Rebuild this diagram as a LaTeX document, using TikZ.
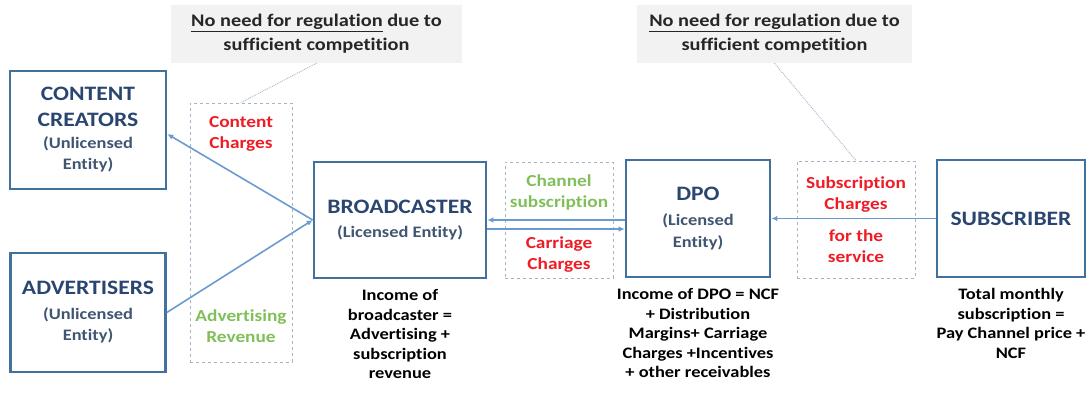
\documentclass[tikz,border=0pt]{standalone}
\usepackage{fontspec}
\setmainfont{Carlito}[FakeStretch=1.15,Ligatures=NoCommon]
\usetikzlibrary{arrows.meta,positioning}
\definecolor{boxblue}{HTML}{41719C}
\definecolor{titleblue}{HTML}{2A4670}
\definecolor{subblue}{HTML}{3F5572}
\definecolor{arrowblue}{HTML}{6A9BD0}
\definecolor{dashcol}{HTML}{A3B4C9}
\definecolor{payred}{HTML}{EE1C25}
\definecolor{earngreen}{HTML}{80BF5A}
\definecolor{notefill}{HTML}{F2F2F2}
\definecolor{notegray}{HTML}{262626}
\newcommand\titlesize{\fontsize{20.5}{26}\selectfont}
\newcommand\subsize{\fontsize{16}{21}\selectfont\color{subblue}}
\newcommand\labfont{\bfseries\fontsize{16.8}{21}\selectfont}
\newcommand\incfont{\bfseries\fontsize{16}{19.5}\selectfont}
\newcommand\notefont{\bfseries\fontsize{17.7}{24}\selectfont}
\begin{document}
\begin{tikzpicture}[x=1pt,y=-1pt,
  entity/.style={draw=boxblue,line width=2.6pt,align=center,inner sep=0pt,
    font=\bfseries\titlesize,text=titleblue},
  ctrbox/.style={draw=dashcol,dashed,line width=0.9pt},
  flow/.style={draw=arrowblue,line width=1.6pt,-{Latex[length=6pt,width=5.5pt]}},
  link/.style={draw=dashcol,densely dotted,line width=0.9pt},
  note/.style={fill=notefill,minimum width=291pt,minimum height=58pt,
    align=center,font=\notefont,text=notegray},
  pay/.style={text=payred,font=\labfont,align=center},
  earn/.style={text=earngreen,font=\labfont,align=center},
  income/.style={font=\incfont,align=center,inner sep=0pt}]
  \useasboundingbox (0,0) rectangle (1091,394);
  % notes on top
  \node[note] (regleft) at (316.5,34)
    {\underline{No need for regulation} due to\\sufficient competition};
  \node[note,minimum width=275pt] (regright) at (774.5,34)
    {\underline{No need for regulation} due to\\sufficient competition};
  % entities
  \node[entity,minimum width=156pt,minimum height=118pt] (cc) at (88,130)
    {CONTENT\\CREATORS\\[-4pt]{\subsize(Unlicensed}\\[-5pt]{\subsize Entity)}};
  \node[entity,minimum width=155pt,minimum height=119pt] (adv) at (88,312.5)
    {ADVERTISERS\\[-1pt]{\subsize(Unlicensed}\\[-5pt]{\subsize Entity)}};
  \node[entity,minimum width=172pt,minimum height=116pt] (bc) at (400,220)
    {BROADCASTER\\[-2pt]{\subsize(Licensed Entity)}};
  \node[entity,minimum width=144pt,minimum height=117pt] (dpo) at (698,218.5)
    {DPO\\[-1pt]{\subsize(Licensed}\\[-4pt]{\subsize Entity)}};
  \node[entity,minimum width=148pt,minimum height=117pt] (sub) at (1011,218.5)
    {SUBSCRIBER};
  % dashed boxes with the charges
  \node[ctrbox,minimum width=102pt,minimum height=259pt] (ctrl) at (241,232.5) {};
  \node[ctrbox,minimum width=108pt,minimum height=116pt] (cha) at (559,220) {};
  \node[ctrbox,minimum width=118pt,minimum height=117pt] (subc) at (856,219.5) {};
  \node[pay] (cch) at (241,134) {Content\\Charges};
  \node[earn] (adrev) at (241,326) {Advertising\\Revenue};
  \node[earn] (chsub) at (559,192.5) {Channel\\subscription};
  \node[pay] (carr) at (559,255) {Carriage\\Charges};
  \node[pay] (subch) at (856,194.5) {Subscription\\Charges};
  \node[pay] (svc) at (856,246) {for the\\service};
  \draw[link] (regleft.south) -- (ctrl.north);
  \draw[link] (regright.south) -- (subc.north);
  % money flows
  \draw[flow] (bc.west) -- ([yshift=-4pt]cc.east);
  \draw[flow] (adv.east) -- (bc.west);
  \draw[flow] (bc.east -| dpo.west) -- (bc.east);
  \draw[flow] ([yshift=-9pt]bc.east) -- ([yshift=-9pt]bc.east -| dpo.west);
  \draw[flow] (sub.west) -- (dpo.east);
  % incomes
  \node[income,below=10pt of bc] (bcinc)
    {Income of\\broadcaster =\\Advertising +\\subscription\\revenue};
  \node[income,below=10pt of dpo] (dpoinc)
    {Income of DPO = NCF\\+ Distribution\\Margins+ Carriage\\Charges +Incentives\\+ other receivables};
  \node[income,below=10pt of sub] (subinc)
    {Total monthly\\subscription =\\Pay Channel price +\\NCF};
\end{tikzpicture}
\end{document}
